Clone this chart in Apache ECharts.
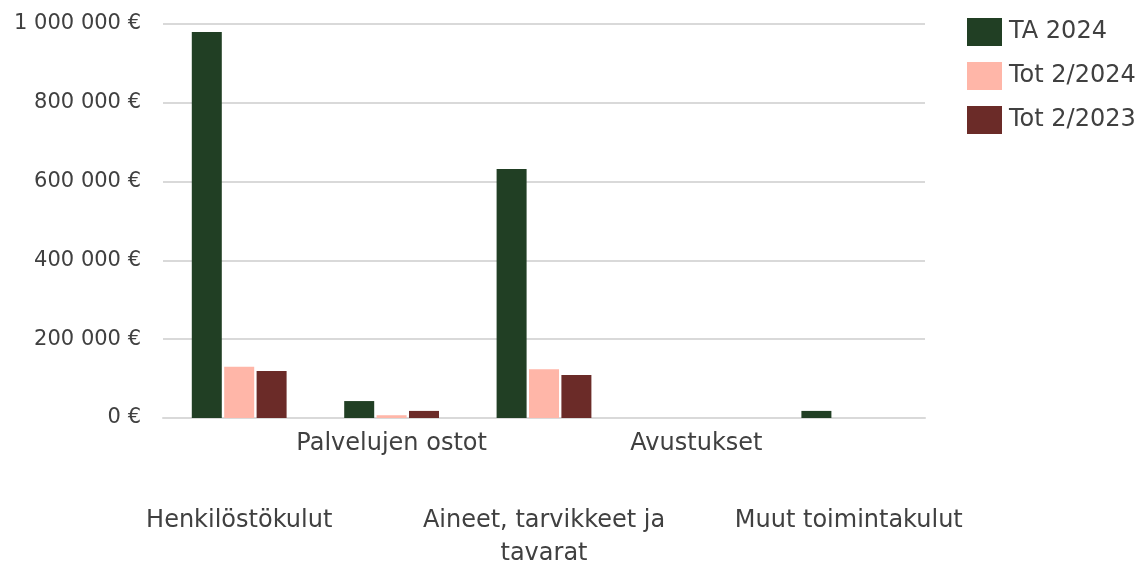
<!DOCTYPE html>
<html>
<head>
<meta charset="utf-8">
<script src="https://cdn.jsdelivr.net/npm/echarts@6/dist/echarts.min.js"></script>
<style>
  html, body { margin: 0; padding: 0; background: #fff; }
  #chart { width: 1148px; height: 571px; }
</style>
</head>
<body>
<div id="chart"></div>
<script>
const categories = ['Henkilöstökulut', 'Palvelujen ostot', 'Aineet, tarvikkeet ja\ntavarat', 'Avustukset', 'Muut toimintakulut'];
const seriesNames = ['TA 2024', 'Tot 2/2024', 'Tot 2/2023'];
const ta2024 = [980000, 43000, 632000, 0, 18000];
const tot2024 = [130000, 7000, 124000, 0, 0];
const tot2023 = [119000, 18000, 109000, 0, 0];
const colors = ['#213f24', '#ffb6a8', '#6b2b28'];

const myChart = echarts.init(document.getElementById('chart'));
const font = 'DejaVu Sans';

// euro-muotoilu välilyönnein
const euro = (v) => String(v).replace(/\B(?=(\d{3})+(?!\d))/g, ' ') + ' €';

const option = {
  animation: false,
  color: colors,
  textStyle: { fontFamily: font },
  grid: { left: 163, right: 223, top: 24, bottom: 153 },
  legend: {
    orient: 'vertical',
    left: 962,
    top: 13,
    itemWidth: 35,
    itemHeight: 28,
    itemGap: 16,
    icon: 'rect',
    textStyle: { fontFamily: font, fontSize: 24, color: '#404040', padding: [0, 0, 0, 2] },
    data: seriesNames,
  },
  xAxis: {
    type: 'category',
    data: categories,
    axisLine: { lineStyle: { color: '#d9d9d9', width: 2 } },
    axisTick: { show: false },
    axisLabel: {
      interval: 0,
      margin: 9,
      formatter: (value, index) => {
        const lines = value.split('\n').map(l => '{a|' + l + '}').join('\n');
        return index % 2 === 1 ? lines : '{s|}\n' + lines;
      },
      rich: {
        a: { fontFamily: font, fontSize: 24, color: '#404040', lineHeight: 33 },
        s: { lineHeight: 77, height: 77 },
      },
    },
  },
  yAxis: {
    type: 'value',
    min: 0,
    max: 1000000,
    interval: 200000,
    axisLine: { show: false },
    axisTick: { show: false },
    splitLine: { lineStyle: { color: '#d9d9d9', width: 2 } },
    axisLabel: {
      margin: 22,
      fontFamily: font,
      fontSize: 21,
      color: '#404040',
      formatter: euro,
    },
  },
  series: [
    { name: seriesNames[0], type: 'bar', data: ta2024, barWidth: 30, barGap: '8%' },
    { name: seriesNames[1], type: 'bar', data: tot2024, barWidth: 30, barGap: '8%' },
    { name: seriesNames[2], type: 'bar', data: tot2023, barWidth: 30, barGap: '8%' },
  ],
};
myChart.setOption(option);
</script>
</body>
</html>
